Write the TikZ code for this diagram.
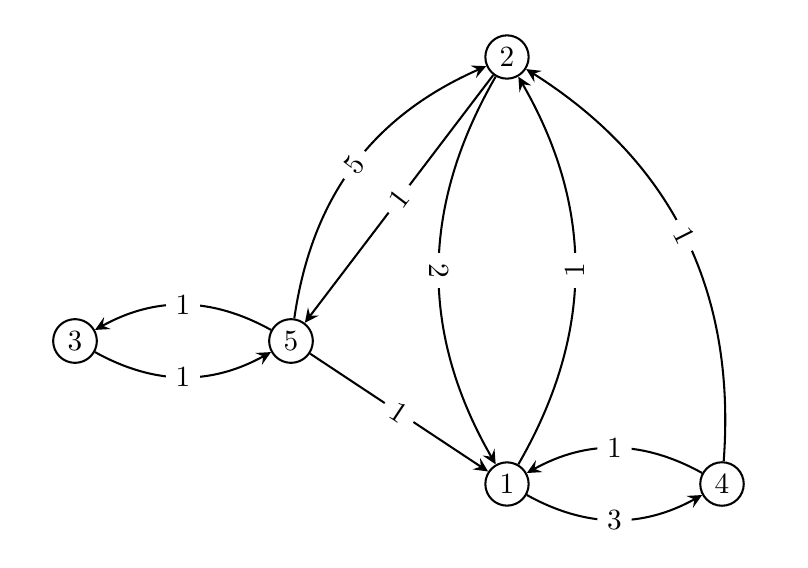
\documentclass[tikz,border=0pt]{standalone}
\usepackage{amsmath,amssymb}
\usepackage{tikz}
\usetikzlibrary{arrows.meta}
\usetikzlibrary{positioning}

\begin{document}
\begin{tikzpicture}[line width=0.7pt,
    >={Stealth[length=4.8pt,width=4.6pt,inset=1.8pt]},
    sommet/.style={draw,circle,inner sep=2.3pt},
    poids/.style={midway,sloped,fill=white}]
      \useasboundingbox (-0.9,-2.724) rectangle (8.796,4.092);

      % Sommets
      \node[sommet] (n3) at (0,0) {3};
      \node[sommet] (n5) at (2.592,0) {5};
      \node[sommet] (n2) at (5.184,3.408) {2};
      \node[sommet] (n1) at (5.184,-1.716) {1};
      \node[sommet] (n4) at (7.764,-1.716) {4};

      % Arcs
      \draw[->] (n3) to[bend right=29] node[poids] {1} (n5);
      \draw[->] (n5) to[bend right=29] node[poids] {1} (n3);
      \draw[->] (n5) to[bend left=29] node[poids] {5} (n2);
      \draw[->] (n2) -- node[poids] {1} (n5);
      \draw[->] (n5) -- node[poids] {1} (n1);
      \draw[->] (n2) to[bend right=30] node[poids] {2} (n1);
      \draw[->] (n1) to[bend right=30] node[poids] {1} (n2);
      \draw[->] (n1) to[bend right=29] node[poids] {3} (n4);
      \draw[->] (n4) to[bend right=29] node[poids] {1} (n1);
      \draw[->] (n4) to[bend right=31] node[poids] {1} (n2);
    \end{tikzpicture}
\end{document}
